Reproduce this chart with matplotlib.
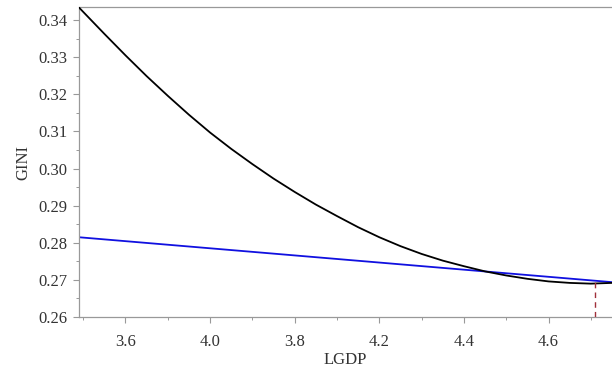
import matplotlib.pyplot as plt
from matplotlib.ticker import MultipleLocator

# curve
lgdp = [3.49, 3.55, 3.60, 3.65, 3.70, 3.75, 3.80, 3.85, 3.90, 3.95, 4.00, 4.05, 4.10,
        4.15, 4.20, 4.25, 4.30, 4.35, 4.40, 4.45, 4.50, 4.55, 4.60, 4.65, 4.70, 4.75]
gini_fit = [0.3434, 0.3363, 0.3305, 0.3249, 0.3196, 0.3145, 0.3097, 0.3053, 0.3012,
            0.2973, 0.2937, 0.2903, 0.2872, 0.2842, 0.2815, 0.2791, 0.2770, 0.2752,
            0.2737, 0.2723, 0.2712, 0.2703, 0.2696, 0.2692, 0.2690, 0.2692]

# straight line
lin_x = [3.49, 4.75]
lin_y = [0.2815, 0.2694]

# dashed marker
mark_x = 4.71
mark_y = 0.2694

xtick_pos = [3.6, 3.8, 4.0, 4.2, 4.4, 4.6]
xtick_lab = ["3.6", "4.0", "3.8", "4.2", "4.4", "4.6"]
ytick_pos = [0.26, 0.27, 0.28, 0.29, 0.30, 0.31, 0.32, 0.33, 0.34]

plt.rcParams['font.family'] = ['Liberation Serif', 'DejaVu Serif']

fig = plt.figure(figsize=(6.12, 3.73), dpi=100)
ax = fig.add_axes([0.129, 0.150, 0.871, 0.830])

ax.plot(lgdp, gini_fit, color="black", lw=1.3, zorder=3)
ax.plot(lin_x, lin_y, color="#1010e0", lw=1.3, zorder=2)
ax.plot([mark_x, mark_x], [0.26, mark_y], color="#a0303a", lw=1.0,
        ls=(0, (4, 3)), zorder=4)

ax.set_xlim(3.49, 4.75)
ax.set_ylim(0.26, 0.3434)

ax.set_xticks(xtick_pos)
ax.set_xticklabels(xtick_lab)
ax.set_yticks(ytick_pos)
ax.set_yticklabels(["%.2f" % v for v in ytick_pos])
ax.xaxis.set_minor_locator(MultipleLocator(0.1))
ax.yaxis.set_minor_locator(MultipleLocator(0.005))

for s in ['left', 'bottom', 'top']:
    ax.spines[s].set_color("#999999")
    ax.spines[s].set_linewidth(0.9)
ax.spines['right'].set_visible(False)

ax.tick_params(which='major', direction='out', length=4, width=0.8,
               color="#999999", labelsize=12, labelcolor="#333333", pad=4)
ax.tick_params(which='minor', direction='out', length=2.5, width=0.7, color="#999999")
ax.tick_params(axis='x', pad=8)

ax.set_xlabel("LGDP", fontsize=12, color="#333333", labelpad=2)
ax.set_ylabel("GINI", fontsize=12, color="#333333", labelpad=5)

fig.savefig("out.png", dpi=100)
